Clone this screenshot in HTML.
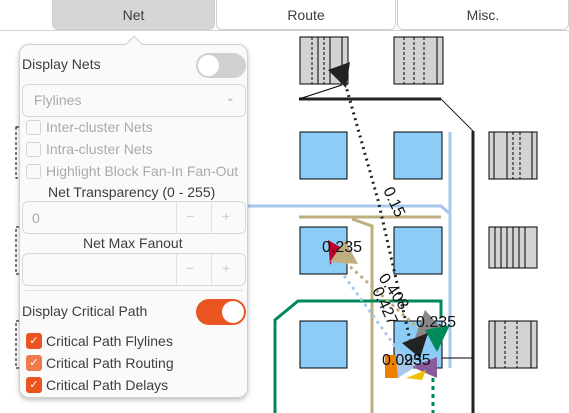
<!DOCTYPE html>
<html><head><meta charset="utf-8"><style>
body{margin:0;width:569px;height:413px;overflow:hidden;background:#fff;font-family:"Liberation Sans",sans-serif;position:relative}
.abs{position:absolute}
.tab{position:absolute;top:0;height:30px;line-height:31px;text-align:center;font-size:14px;color:#3d3d3d;border:1px solid #d0d0d0;border-top:none;border-radius:0 0 6px 6px;box-sizing:border-box;background:#fff}
.pop{position:absolute;left:19px;top:44px;width:229px;height:354px;background:#fafafa;border:1px solid #cfcfcf;border-radius:10px;box-shadow:0 2px 5px rgba(0,0,0,.25);box-sizing:border-box}
.t{position:absolute;font-size:14px;color:#3d3d3d;white-space:nowrap}
.g{color:#aaa}
.cb{position:absolute;left:26px;width:15px;height:15px;border:1px solid #d4d4d4;border-radius:3px;box-sizing:border-box;background:#fafafa}
.cbo{position:absolute;left:26px;width:16px;height:16px;border-radius:3px;background:#e95420;color:#fff;font-size:11px;text-align:center;line-height:16px}
.spin{position:absolute;left:22px;width:224px;height:33px;border:1px solid #d8d8d8;border-radius:6px;box-sizing:border-box;background:#fafafa}
.sep{position:absolute;top:0;bottom:0;width:1px;background:#e2e2e2}
</style></head><body>
<svg class="abs" style="left:0;top:0" width="569" height="413">
<g stroke="#000" stroke-width="1" fill="#d3d3d3">
<rect x="300" y="37" width="48" height="47"/>
<rect x="394" y="37" width="49" height="47"/>
<rect x="489" y="132" width="48" height="47"/>
<rect x="489" y="227" width="48" height="41"/>
<rect x="489" y="321" width="48" height="47"/>
</g>
<g stroke="#000">
<line x1="318" y1="37" x2="318" y2="84"/><line x1="330" y1="37" x2="330" y2="84"/><line x1="342" y1="37" x2="342" y2="84"/>
<line x1="437" y1="37" x2="437" y2="84"/>
<line x1="494" y1="132" x2="494" y2="179"/><line x1="507" y1="132" x2="507" y2="179"/><line x1="532" y1="132" x2="532" y2="179"/>
<line x1="495" y1="227" x2="495" y2="268"/><line x1="501" y1="227" x2="501" y2="268"/><line x1="507" y1="227" x2="507" y2="268"/><line x1="513" y1="227" x2="513" y2="268"/><line x1="519" y1="227" x2="519" y2="268"/><line x1="525" y1="227" x2="525" y2="268"/>
<line x1="495" y1="321" x2="495" y2="368"/><line x1="531" y1="321" x2="531" y2="368"/>
</g>
<g stroke="#000" stroke-dasharray="3,2">
<line x1="312" y1="37" x2="312" y2="84"/><line x1="324" y1="37" x2="324" y2="84"/>
<line x1="404" y1="37" x2="404" y2="84"/><line x1="414" y1="37" x2="414" y2="84"/><line x1="424" y1="37" x2="424" y2="84"/>
<line x1="513" y1="132" x2="513" y2="179"/><line x1="520" y1="132" x2="520" y2="179"/>
<line x1="505" y1="321" x2="505" y2="368"/><line x1="517" y1="321" x2="517" y2="368"/>
<rect x="16" y="127" width="8" height="51" fill="none"/><rect x="16" y="227" width="8" height="47" fill="none"/><rect x="16" y="321" width="8" height="47" fill="none"/>
</g>
<g stroke="#000" fill="#8ccdf8">
<rect x="300" y="132" width="47" height="47"/>
<rect x="394" y="132" width="48" height="47"/>
<rect x="300" y="227" width="47" height="47"/>
<rect x="394" y="227" width="48" height="47"/>
<rect x="300" y="321" width="47" height="47"/>
<rect x="394" y="321" width="48" height="47"/>
</g>
<g fill="none">
<line x1="299" y1="99" x2="441" y2="99" stroke="#222" stroke-width="3"/>
<line x1="441" y1="99" x2="473" y2="131" stroke="#222" stroke-width="1"/>
<line x1="473" y1="131" x2="473" y2="413" stroke="#222" stroke-width="3"/>
<line x1="299" y1="99" x2="342" y2="85" stroke="#000"/>
<polyline points="248,206 441,206 450,214" stroke="#a5c8ec" stroke-width="3"/>
<line x1="450" y1="132" x2="450" y2="368" stroke="#a5c8ec" stroke-width="3"/>
<line x1="299" y1="217" x2="441" y2="217" stroke="#bfae80" stroke-width="3"/>
<polyline points="352,219 372,226 372,413" stroke="#bfae80" stroke-width="3"/>
<polyline points="275,413 275,320 298,301 441,301 441,318" stroke="#008a5a" stroke-width="3"/>
<line x1="433" y1="370" x2="433" y2="413" stroke="#008a5a" stroke-width="3" stroke-dasharray="4,4"/>
<polyline points="342,72 378,200 410,340" stroke="#222" stroke-width="3" stroke-dasharray="2,4"/>
<line x1="345" y1="262" x2="420" y2="330" stroke="#bfae80" stroke-width="3" stroke-dasharray="3,4"/>
<line x1="340" y1="270" x2="405" y2="360" stroke="#a5c8ec" stroke-width="3" stroke-dasharray="3,4"/>
<line x1="442" y1="358" x2="472" y2="358" stroke="#000"/>
</g>
<polygon points="328,70 350,62 346,88" fill="#222"/>
<polygon points="328,240 342,248 330,265" fill="#c0002a"/>
<polygon points="330,262 345,240 358,264" fill="#bfae80"/>
<polygon points="415,338 425,310 445,332" fill="#888"/>
<polygon points="425,330 450,325 437,352" fill="#008a5a"/>
<polygon points="402,343 428,333 420,358" fill="#222"/>
<polygon points="385,355 398,355 398,378 385,378" fill="#f08000"/>
<polygon points="395,348 420,364 398,378" fill="#a5c8ec"/>
<polygon points="412,367 437,357 437,378" fill="#8a5a9a"/>
<polygon points="406,378 426,370 422,380" fill="#f0c000"/>
<g font-size="16" fill="#111" font-family="Liberation Sans,sans-serif">
<text x="322" y="252">0.235</text>
<text x="416" y="327">0.235</text>
<text x="382" y="365">0.095</text><text x="404" y="365">235</text>
<text transform="translate(383,190) rotate(65)">0.15</text>
<text transform="translate(378,278) rotate(55)">0.408</text>
<text transform="translate(372,290) rotate(65)">0.427</text>
</g>
</svg>
<div class="abs" style="left:0;top:30px;width:569px;height:1px;background:#d0d0d0"></div>
<div class="tab" style="left:52px;width:163px;background:#d5d5d5">Net</div>
<div class="tab" style="left:216px;width:180px">Route</div>
<div class="tab" style="left:397px;width:172px">Misc.</div>
<div class="pop"></div>
<div class="abs" style="left:128px;top:38px;width:11px;height:11px;background:#fafafa;border-left:1px solid #cfcfcf;border-top:1px solid #cfcfcf;transform:rotate(45deg)"></div>
<div class="t" style="left:22px;top:56px">Display Nets</div>
<div class="abs" style="left:196px;top:53px;width:50px;height:25px;border-radius:13px;background:#d0d0d0"><div class="abs" style="left:2px;top:2px;width:21px;height:21px;border-radius:50%;background:#fff"></div></div>
<div class="abs" style="left:22px;top:84px;width:224px;height:33px;border:1px solid #d8d8d8;border-radius:6px;box-sizing:border-box"><span class="t g" style="left:11px;top:7px">Flylines</span><span class="t g" style="right:10px;top:6px;font-size:11px">&#8964;</span></div>
<div class="cb" style="top:120px"></div><div class="t g" style="left:46px;top:119px">Inter-cluster Nets</div>
<div class="cb" style="top:142px"></div><div class="t g" style="left:46px;top:141px">Intra-cluster Nets</div>
<div class="cb" style="top:164px"></div><div class="t g" style="left:46px;top:163px">Highlight Block Fan-In Fan-Out</div>
<div class="t" style="left:48px;top:184px">Net Transparency (0 - 255)</div>
<div class="spin" style="top:201px"><span class="t g" style="left:9px;top:8px">0</span><div class="sep" style="left:153px"></div><div class="sep" style="left:188px"></div><span class="t" style="left:163px;top:6px;color:#ccc">&#8722;</span><span class="t" style="left:199px;top:6px;color:#ccc">+</span></div>
<div class="t" style="left:83px;top:235px">Net Max Fanout</div>
<div class="spin" style="top:253px"><div class="sep" style="left:153px"></div><div class="sep" style="left:188px"></div><span class="t" style="left:163px;top:6px;color:#ccc">&#8722;</span><span class="t" style="left:199px;top:6px;color:#ccc">+</span></div>
<div class="abs" style="left:25px;top:290px;width:218px;height:1px;background:#e0e0e0"></div>
<div class="t" style="left:22px;top:303px">Display Critical Path</div>
<div class="abs" style="left:196px;top:299px;width:50px;height:26px;border-radius:13px;background:#e95420"><div class="abs" style="left:26px;top:2px;width:22px;height:22px;border-radius:50%;background:#fff"></div></div>
<div class="cbo" style="top:333px">&#10003;</div><div class="t" style="left:46px;top:333px">Critical Path Flylines</div>
<div class="cbo" style="top:355px;background:#ee7a4e">&#10003;</div><div class="t" style="left:46px;top:355px">Critical Path Routing</div>
<div class="cbo" style="top:377px">&#10003;</div><div class="t" style="left:46px;top:377px">Critical Path Delays</div>
</body></html>
